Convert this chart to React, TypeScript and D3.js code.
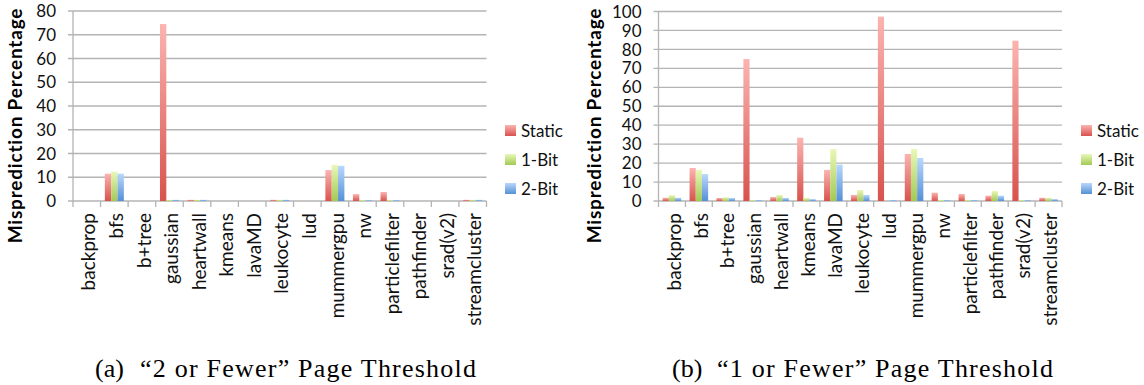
import React from "react";
import * as d3 from "d3";

const categories = [
  "backprop", "bfs", "b+tree", "gaussian", "heartwall", "kmeans", "lavaMD",
  "leukocyte", "lud", "mummergpu", "nw", "particlefilter", "pathfinder",
  "srad(v2)", "streamcluster",
];
const seriesNames = ["Static", "1-Bit", "2-Bit"];

// (a) "2 or Fewer" page threshold
const aStatic = [0, 11.5, 0, 74.5, 0.5, 0, 0, 0.5, 0, 13.0, 2.9, 3.8, 0, 0, 0.5];
const aOneBit = [0, 12.4, 0, 0.5, 0.5, 0, 0, 0.5, 0, 15.2, 0.4, 0.4, 0, 0, 0.5];
const aTwoBit = [0, 11.5, 0, 0.5, 0.5, 0, 0, 0.5, 0, 14.8, 0.4, 0.4, 0, 0, 0.5];
const aTicks = [0, 10, 20, 30, 40, 50, 60, 70, 80];

// (b) "1 or Fewer" page threshold
const bStatic = [1.7, 17.4, 1.6, 74.9, 2.1, 33.4, 16.4, 3.2, 97.3, 24.8, 4.4, 3.7, 2.8, 84.6, 1.7];
const bOneBit = [3.1, 16.4, 2.0, 0.5, 3.2, 1.6, 27.4, 5.8, 0, 27.4, 0.5, 0.5, 5.3, 0.5, 1.7];
const bTwoBit = [1.7, 14.2, 1.6, 0.5, 1.6, 1.0, 19.2, 3.2, 0.5, 22.7, 0.5, 0.5, 2.8, 0.5, 1.0];
const bTicks = [0, 10, 20, 30, 40, 50, 60, 70, 80, 90, 100];

const gradStops = [
  { id: "g0", top: "#FBB4B1", bottom: "#D8524D" },
  { id: "g1", top: "#E8F8B8", bottom: "#A3C955" },
  { id: "g2", top: "#B9D8FB", bottom: "#5590D7" },
];

const sansFont = "Lato, 'Open Sans', sans-serif";
const serifFont = "'Liberation Serif', 'DejaVu Serif', serif";
const gridColor = "#b4b4b4";

type PanelProps = {
  series: number[][];
  ticks: number[];
  x0: number;
  x1: number;
  yTop: number;
  yBottom: number;
  titleX: number;
  legendX: number;
  capLabel: string;
  capText: string;
  capLabelX: number;
  capTextX: number;
  capTextEnd: number;
};

function Panel(p: PanelProps) {
  const yMax = p.ticks[p.ticks.length - 1];
  const y = d3.scaleLinear().domain([0, yMax]).range([p.yBottom, p.yTop]);
  const x = d3.scaleBand<string>().domain(categories).range([p.x0, p.x1]).padding(0);
  const bw = x.bandwidth();
  const pad = bw * 0.155;
  const xs = d3
    .scaleBand<string>()
    .domain(seriesNames)
    .range([pad, bw - pad])
    .padding(0);
  const boundaries = d3.range(categories.length + 1).map((i) => p.x0 + i * bw);
  return (
    <g>
      {p.ticks.map((t) => (
        <g key={"t" + t}>
          <line x1={p.x0 - 5} x2={p.x1} y1={y(t)} y2={y(t)} stroke={gridColor} strokeWidth={1.3} />
          <text
            x={p.x0 - 17}
            y={y(t)}
            dy="0.36em"
            textAnchor="end"
            fontFamily={sansFont}
            fontSize={17}
            fill="#111"
          >
            {t}
          </text>
        </g>
      ))}
      <line x1={p.x0} x2={p.x0} y1={p.yTop} y2={p.yBottom} stroke={gridColor} strokeWidth={1.3} />
      {boundaries.map((bx, i) => (
        <line key={"xb" + i} x1={bx} x2={bx} y1={p.yBottom} y2={p.yBottom + 6} stroke={gridColor} strokeWidth={1.3} />
      ))}
      {categories.map((c, ci) => (
        <g key={c} transform={`translate(${x(c)},0)`}>
          {p.series.map((vals, si) => {
            const v = vals[ci];
            if (!v) return null;
            return (
              <rect
                key={si}
                x={xs(seriesNames[si])}
                width={xs.bandwidth()}
                y={y(v)}
                height={p.yBottom - y(v)}
                fill={`url(#${gradStops[si].id})`}
              />
            );
          })}
        </g>
      ))}
      {categories.map((c) => (
        <text
          key={"l" + c}
          transform={`translate(${(x(c) as number) + bw / 2 + 2},${p.yBottom + 12}) rotate(-90)`}
          dy="0.35em"
          textAnchor="end"
          fontFamily={sansFont}
          fontSize={19}
          fill="#111"
        >
          {c}
        </text>
      ))}
      <text
        transform={`translate(${p.titleX},125.5) rotate(-90)`}
        textAnchor="middle"
        fontFamily={sansFont}
        fontWeight="bold"
        fontSize={19}
        letterSpacing={0.8}
        fill="#000"
      >
        Misprediction Percentage
      </text>
      {seriesNames.map((s, i) => (
        <g key={"lg" + s} transform={`translate(${p.legendX},${125 + i * 29})`}>
          <rect x={0} y={0} width={11} height={11} fill={`url(#${gradStops[i].id})`} />
          <text x={16} y={5.5} dy="0.36em" fontFamily={sansFont} fontSize={17} fill="#111">
            {s}
          </text>
        </g>
      ))}
      <text x={p.capLabelX} y={377} fontFamily={serifFont} fontSize={26} fill="#000">
        {p.capLabel}
      </text>
      <text
        x={p.capTextX}
        y={377}
        fontFamily={serifFont}
        fontSize={26}
        fill="#000"
        textLength={p.capTextEnd - p.capTextX}
        lengthAdjust="spacing"
      >
        {p.capText}
      </text>
    </g>
  );
}

export default function App() {
  return (
    <svg width={1144} height={385} style={{ position: "absolute", left: 0, top: 0, background: "#fff" }}>
      <defs>
        {gradStops.map((g) => (
          <linearGradient key={g.id} id={g.id} x1="0" y1="0" x2="0" y2="1">
            <stop offset="0%" stopColor={g.top} />
            <stop offset="100%" stopColor={g.bottom} />
          </linearGradient>
        ))}
      </defs>
      <rect x={0} y={0} width={1144} height={385} fill="#fff" />
      <Panel
        series={[aStatic, aOneBit, aTwoBit]}
        ticks={aTicks}
        x0={73}
        x1={486.5}
        yTop={11}
        yBottom={201}
        titleX={22}
        legendX={505}
        capLabel="(a)"
        capText="“2 or Fewer” Page Threshold"
        capLabelX={95}
        capTextX={140}
        capTextEnd={476}
      />
      <Panel
        series={[bStatic, bOneBit, bTwoBit]}
        ticks={bTicks}
        x0={658.5}
        x1={1062}
        yTop={11.5}
        yBottom={201}
        titleX={601}
        legendX={1081}
        capLabel="(b)"
        capText="“1 or Fewer” Page Threshold"
        capLabelX={672}
        capTextX={717}
        capTextEnd={1053}
      />
    </svg>
  );
}
